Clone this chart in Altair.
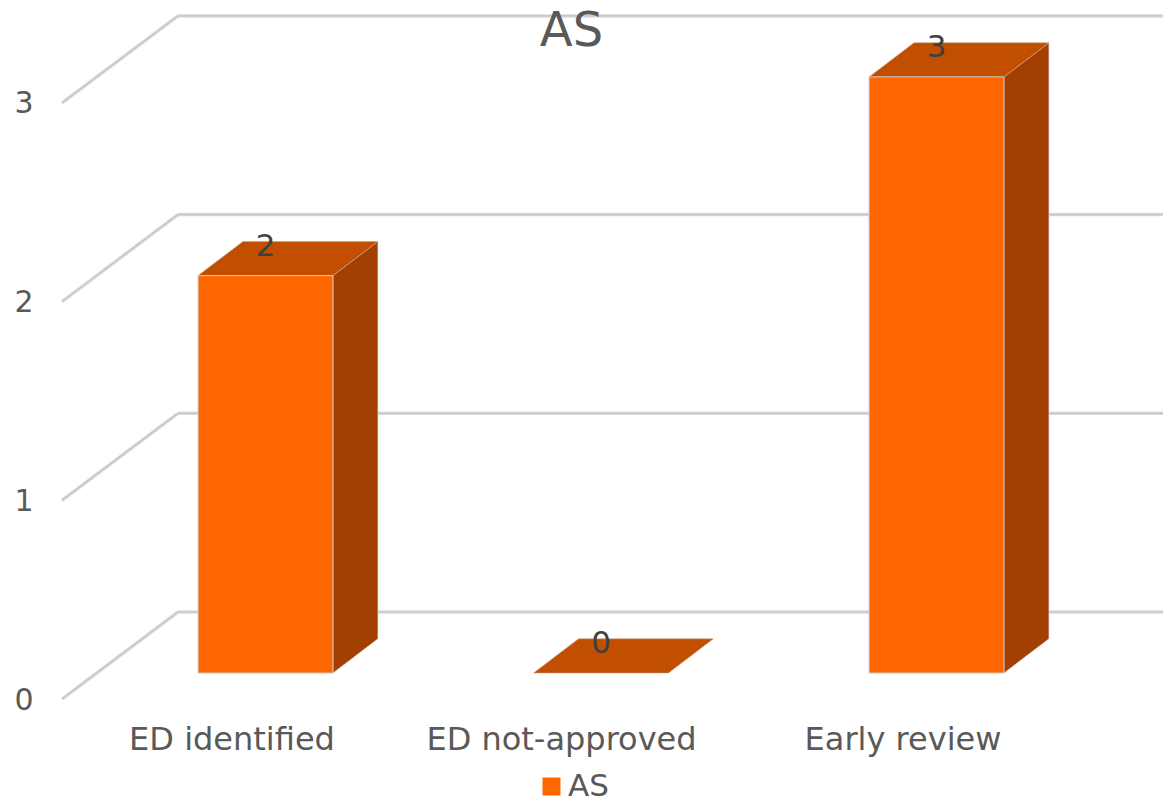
import altair as alt
import pandas as pd

categories = ["ED identified", "ED not-approved", "Early review"]
values = [2, 0, 3]
series_name = "AS"
tick_values = [0, 1, 2, 3]

FONT = "DejaVu Sans"
TEXT = "#595959"
C_FRONT, C_TOP, C_SIDE = "#FF6600", "#C24E00", "#A33F00"

# Chart geometry in data units (1 x-unit = one category step, 1 y-unit = one value step)
BAR_W = 0.402
DEPTH_X, DEPTH_Y = 0.134, 0.172
WALL_LEFT, WALL_BACK, WALL_RIGHT = -0.6066, -0.2608, 2.70
WALL_FRONT_DY, WALL_BACK_DY = -0.131, 0.307

X_DOM = [(8 - 265.5) / 335.5, (1163 - 265.5) / 335.5]
Y_DOM = [(673 - 800) / 198.7, (673 - 8) / 198.7]
x_scale = alt.Scale(domain=X_DOM, nice=False, zero=False)
y_scale = alt.Scale(domain=Y_DOM, nice=False, zero=False)

front, top, side, labels = [], [], [], []
for i, (c, v) in enumerate(zip(categories, values)):
    l, r = i - BAR_W / 2, i + BAR_W / 2
    front.append(dict(cat=c, l=l, r=r, v=v, base=0, series=series_name))
    top += [
        dict(cat=c, x=l, y=v, y2=v),
        dict(cat=c, x=l + DEPTH_X, y=v + DEPTH_Y, y2=v),
        dict(cat=c, x=r, y=v + DEPTH_Y, y2=v),
        dict(cat=c, x=r + DEPTH_X, y=v + DEPTH_Y, y2=v + DEPTH_Y),
    ]
    if v > 0:
        side += [
            dict(cat=c, x=r, y=v, y2=0),
            dict(cat=c, x=r + DEPTH_X, y=v + DEPTH_Y, y2=DEPTH_Y),
        ]
    labels.append(dict(x=i, y=v + 0.146, label=str(v)))

grid = []
for t in tick_values:
    grid.append(dict(x=WALL_LEFT, x2=WALL_BACK, y=t + WALL_FRONT_DY, y2=t + WALL_BACK_DY))
    grid.append(dict(x=WALL_BACK, x2=WALL_RIGHT, y=t + WALL_BACK_DY, y2=t + WALL_BACK_DY))

df_front, df_top, df_side = pd.DataFrame(front), pd.DataFrame(top), pd.DataFrame(side)
df_labels, df_grid = pd.DataFrame(labels), pd.DataFrame(grid)

x_axis = alt.Axis(
    values=list(range(len(categories))),
    labelExpr="[" + ",".join(f"'{c}'" for c in categories) + "][datum.value]",
    orient="bottom", offset=-76, domain=False, ticks=False, grid=False, title=None,
    labelFont=FONT, labelFontSize=32, labelColor=TEXT, labelPadding=0, labelOverlap=False,
    labelFlush=False, labelBound=False, labelLimit=400,
    labelOffset={"condition": {"test": "datum.value == 1", "value": -40}, "value": -34},
)
y_axis = alt.Axis(
    values=tick_values, format="d", orient="left", offset=-40, domain=False, ticks=False,
    grid=False, title=None, labelFont=FONT, labelFontSize=30, labelColor=TEXT,
    labelPadding=15, labelOffset=27, labelFlush=False, labelBound=False, labelOverlap=False,
)

grid_base = alt.Chart(df_grid).encode(
    x=alt.X("x:Q", scale=x_scale, axis=x_axis),
    x2="x2:Q",
    y=alt.Y("y:Q", scale=y_scale, axis=y_axis),
    y2="y2:Q",
)
grid_outer = grid_base.mark_rule(color="#dcdcdc", strokeWidth=3.5)
grid_inner = grid_base.mark_rule(color="#c4c4c4", strokeWidth=1.2)

side_layer = alt.Chart(df_side).mark_area(color=C_SIDE, stroke="#c9c9c9", strokeWidth=0.6).encode(
    x=alt.X("x:Q", scale=x_scale),
    y=alt.Y("y:Q", scale=y_scale, stack=None),
    y2="y2:Q",
    detail="cat:N",
)
top_layer = alt.Chart(df_top).mark_area(color=C_TOP, stroke="#c9a58c", strokeWidth=0.6).encode(
    x=alt.X("x:Q", scale=x_scale),
    y=alt.Y("y:Q", scale=y_scale, stack=None),
    y2="y2:Q",
    detail="cat:N",
)
front_layer = alt.Chart(df_front[df_front.v > 0]).mark_rect(stroke="#c9c9c9", strokeWidth=1).encode(
    x=alt.X("l:Q", scale=x_scale),
    x2="r:Q",
    y=alt.Y("v:Q", scale=y_scale),
    y2="base:Q",
    color=alt.Color(
        "series:N",
        scale=alt.Scale(domain=[series_name], range=[C_FRONT]),
        legend=alt.Legend(
            title=None, orient="none", legendX=528, legendY=763, symbolType="square",
            symbolSize=324, symbolStrokeWidth=0, labelFont=FONT, labelFontSize=31,
            labelColor=TEXT, labelOffset=1, padding=0,
        ),
    ),
)
label_layer = alt.Chart(df_labels).mark_text(
    font=FONT, fontSize=31, color="#404040", baseline="middle", align="center"
).encode(
    x=alt.X("x:Q", scale=x_scale),
    y=alt.Y("y:Q", scale=y_scale),
    text="label:N",
)

chart = alt.layer(grid_outer, grid_inner, side_layer, top_layer, front_layer, label_layer).properties(
    width=1155,
    height=792,
    padding=0,
    autosize=alt.AutoSizeParams(type="none"),
    title=alt.Title(series_name, font=FONT, fontSize=48, fontWeight="normal", color=TEXT,
                    anchor="middle", frame="group", dx=-14, offset=-48),
).configure_view(stroke=None)

chart.save("out.html", embed_options={"renderer": "svg", "actions": False})
